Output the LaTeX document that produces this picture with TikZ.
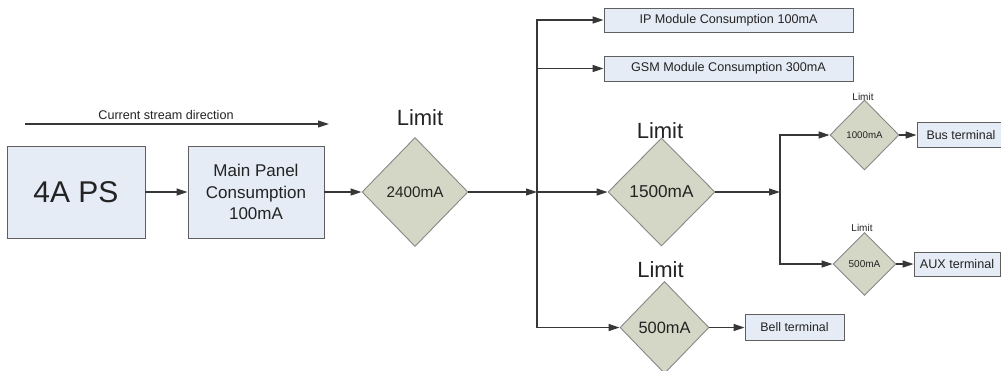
\documentclass[tikz,border=0pt]{standalone}
\usepackage{fontspec}
\setmainfont{Liberation Sans}
\usetikzlibrary{shapes.geometric,arrows.meta}

\definecolor{boxfill}{RGB}{229,236,246}
\definecolor{boxline}{RGB}{95,95,95}
\definecolor{gatefill}{RGB}{212,215,197}
\definecolor{gateline}{RGB}{135,135,135}
\definecolor{wirecol}{RGB}{55,55,55}
\definecolor{ink}{RGB}{35,35,35}

\newcommand\fsz[2]{\fontsize{#1}{#2}\selectfont}

\tikzset{
  box/.style={draw=boxline, fill=boxfill, line width=0.9pt, inner sep=0pt,
              text=ink, align=center},
  gate/.style={diamond, draw=gateline, fill=gatefill, line width=0.9pt,
               inner sep=0pt, text=ink},
  wire/.style={draw=wirecol, line width=1.1pt},
  arr/.style={wire, -{Triangle[length=11pt,width=7pt]}},
  lbl/.style={text=ink, inner sep=0pt}
}

\begin{document}
\begin{tikzpicture}[x=1pt, y=-1pt]
\useasboundingbox (0,0) rectangle (1001,370);
\clip (0,0) rectangle (1001,370);

% direction of current flow
\coordinate (s0) at (25,124);
\coordinate (s1) at (329,124);
\draw[arr] (s0) -- (s1);
\node[lbl, font=\fsz{12.6}{15}] (streamlbl) at (166,115) {Current stream direction};

% supply and main panel
\node[box, minimum width=138pt, minimum height=92pt, font=\fsz{30}{36}] (ps) at (76,192) {4A PS};
\node[box, minimum width=136pt, minimum height=92pt, font=\fsz{17}{21.7}] (main) at (256,192) {Main Panel\\Consumption\\100mA};

% first limiter
\node[gate, minimum width=106pt, minimum height=109pt, font=\fsz{15.3}{18}] (d2400) at (415,192) {2400mA};
\node[lbl, font=\fsz{22}{26}] (l2400) at (420,117.5) {Limit};

% first junction and its branches
\coordinate (j1) at (537,192);
\node[box, minimum width=249pt, minimum height=24pt, font=\fsz{12.6}{15}] (ip) at (728.5,20) {IP Module Consumption 100mA};
\node[box, minimum width=249pt, minimum height=25pt, font=\fsz{12.6}{15}] (gsm) at (728.5,68.5) {GSM Module Consumption 300mA};
\node[gate, minimum width=107pt, minimum height=108pt, font=\fsz{17.2}{20}] (d1500) at (661.5,192) {1500mA};
\node[lbl, font=\fsz{22}{26}] (l1500) at (660,131) {Limit};
\node[gate, minimum width=89pt, minimum height=92pt, font=\fsz{16.4}{19}] (d500b) at (664.5,327.5) {500mA};
\node[lbl, font=\fsz{22}{26}] (l500b) at (660.5,270) {Limit};
\node[box, minimum width=99pt, minimum height=26pt, font=\fsz{12.4}{15}] (bell) at (794.5,327.5) {Bell terminal};

% second junction and its branches
\coordinate (j2) at (780,192);
\node[gate, minimum width=69pt, minimum height=70pt, font=\fsz{9.7}{12}] (d1000) at (864.5,135) {1000mA};
\node[lbl, font=\fsz{10}{12}] (l1000) at (863,96.5) {Limit};
\node[box, minimum width=88pt, minimum height=25pt, font=\fsz{12.4}{15}] (bus) at (961,135) {Bus terminal};
\node[gate, minimum width=63pt, minimum height=63pt, font=\fsz{10}{12}] (d500s) at (864.5,264) {500mA};
\node[lbl, font=\fsz{10}{12}] (l500s) at (862,228) {Limit};
\node[box, minimum width=86pt, minimum height=24pt, font=\fsz{12.6}{15}] (aux) at (957,264) {AUX terminal};

% connectors
\draw[arr] (ps) -- (main);
\draw[arr] (main) -- (d2400);
\draw[arr] (d2400.east) -- (j1);
\draw[arr] (j1) |- (ip.west);
\draw[arr] (j1) |- (gsm.west);
\draw[arr] (j1) -- (d1500.west);
\draw[arr] (j1) |- (d500b.west);
\draw[arr] (d500b.east) -- (bell.west);
\draw[arr] (d1500.east) -- (j2);
\draw[arr] (j2) |- (d1000.west);
\draw[arr] (j2) |- (d500s.west);
\draw[arr] (d1000.east) -- (bus.west);
\draw[arr] (d500s.east) -- (aux.west);
\end{tikzpicture}
\end{document}
